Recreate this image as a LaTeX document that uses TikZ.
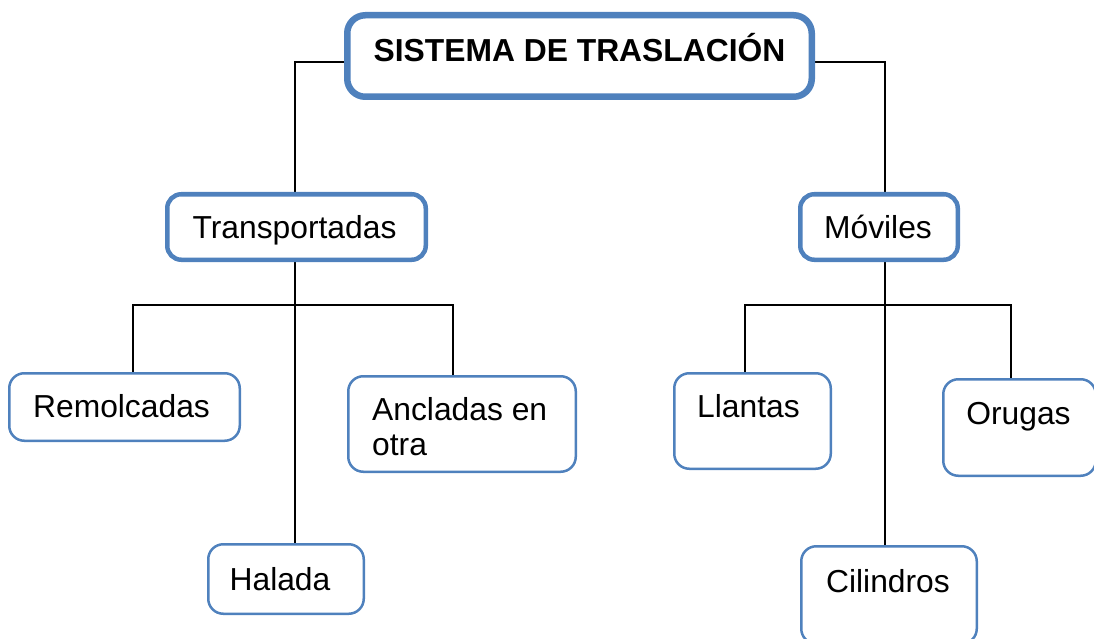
\documentclass[tikz,border=0pt]{standalone}
\usepackage{fontspec}
\setmainfont{Liberation Sans}
\usetikzlibrary{backgrounds}
\definecolor{boxblue}{RGB}{79,129,189}
\begin{document}
\begin{tikzpicture}[x=1pt,y=-1pt,
  box/.style={draw=boxblue,fill=white,rounded corners=15pt,inner sep=0pt,line width=2.5pt},
  midbox/.style={box,line width=4.5pt,rounded corners=14pt},
  topbox/.style={box,line width=6.5pt,rounded corners=18pt},
  txt/.style={inner sep=0pt,anchor=base,font=\fontsize{31.8pt}{38pt}\selectfont},
  conn/.style={draw=black,line width=1.5pt}]
\useasboundingbox (0,0) rectangle (1094,639);
% boxes
\node[topbox,minimum width=464.5pt,minimum height=81.5pt] (main) at (579.5,56) {};
\node[midbox,minimum width=258.5pt,minimum height=65.5pt] (trans) at (296.5,227) {};
\node[midbox,minimum width=157.5pt,minimum height=65.5pt] (mov) at (879,227) {};
\node[box,minimum width=230.5pt,minimum height=67.5pt] (rem) at (124.5,407) {};
\node[box,minimum width=227.5pt,minimum height=95.5pt] (anc) at (462,424) {};
\node[box,minimum width=155.5pt,minimum height=69.5pt] (hal) at (286,579) {};
\node[box,minimum width=156.5pt,minimum height=95.5pt] (lla) at (752.5,421) {};
\node[box,minimum width=152.5pt,minimum height=96.5pt] (oru) at (1019.5,427.5) {};
\node[box,minimum width=175.5pt,minimum height=97.5pt] (cil) at (889,595) {};
% texts
\node[txt,font=\fontsize{31.8pt}{38pt}\selectfont\bfseries] (tmain) at (579.5,62) {SISTEMA DE TRASLACIÓN};
\node[txt] (ttrans) at (294.5,238) {Transportadas};
\node[txt] (tmov) at (878,238) {Móviles};
\node[txt] (trem) at (121.5,417) {Remolcadas};
\node[txt,anchor=base west] (tanc1) at (372,420) {Ancladas en};
\node[txt,anchor=base west] (tanc2) at (372,455) {otra};
\node[txt] (thal) at (280,590) {Halada};
\node[txt] (tlla) at (748.5,417) {Llantas};
\node[txt] (toru) at (1018.5,424) {Orugas};
\node[txt] (tcil) at (888,592) {Cilindros};
% connectors
\coordinate (tL) at (133,305);
\coordinate (tR) at (453,305);
\coordinate (mL) at (745,305);
\coordinate (mR) at (1011,305);
\begin{scope}[on background layer]
\draw[conn] ([yshift=-6pt]main.west) -| (295,0 |- trans.north);
\draw[conn] ([yshift=-6pt]main.east) -| (885,0 |- mov.north);
\draw[conn] (295,0 |- trans.south) -- (295,0 |- hal.north);
\draw[conn] (tL |- rem.north) -- (tL) -- (tR) -- (tR |- anc.north);
\draw[conn] (885,0 |- mov.south) -- (885,0 |- cil.north);
\draw[conn] (mL |- lla.north) -- (mL) -- (mR) -- (mR |- oru.north);
\end{scope}
\end{tikzpicture}
\end{document}
